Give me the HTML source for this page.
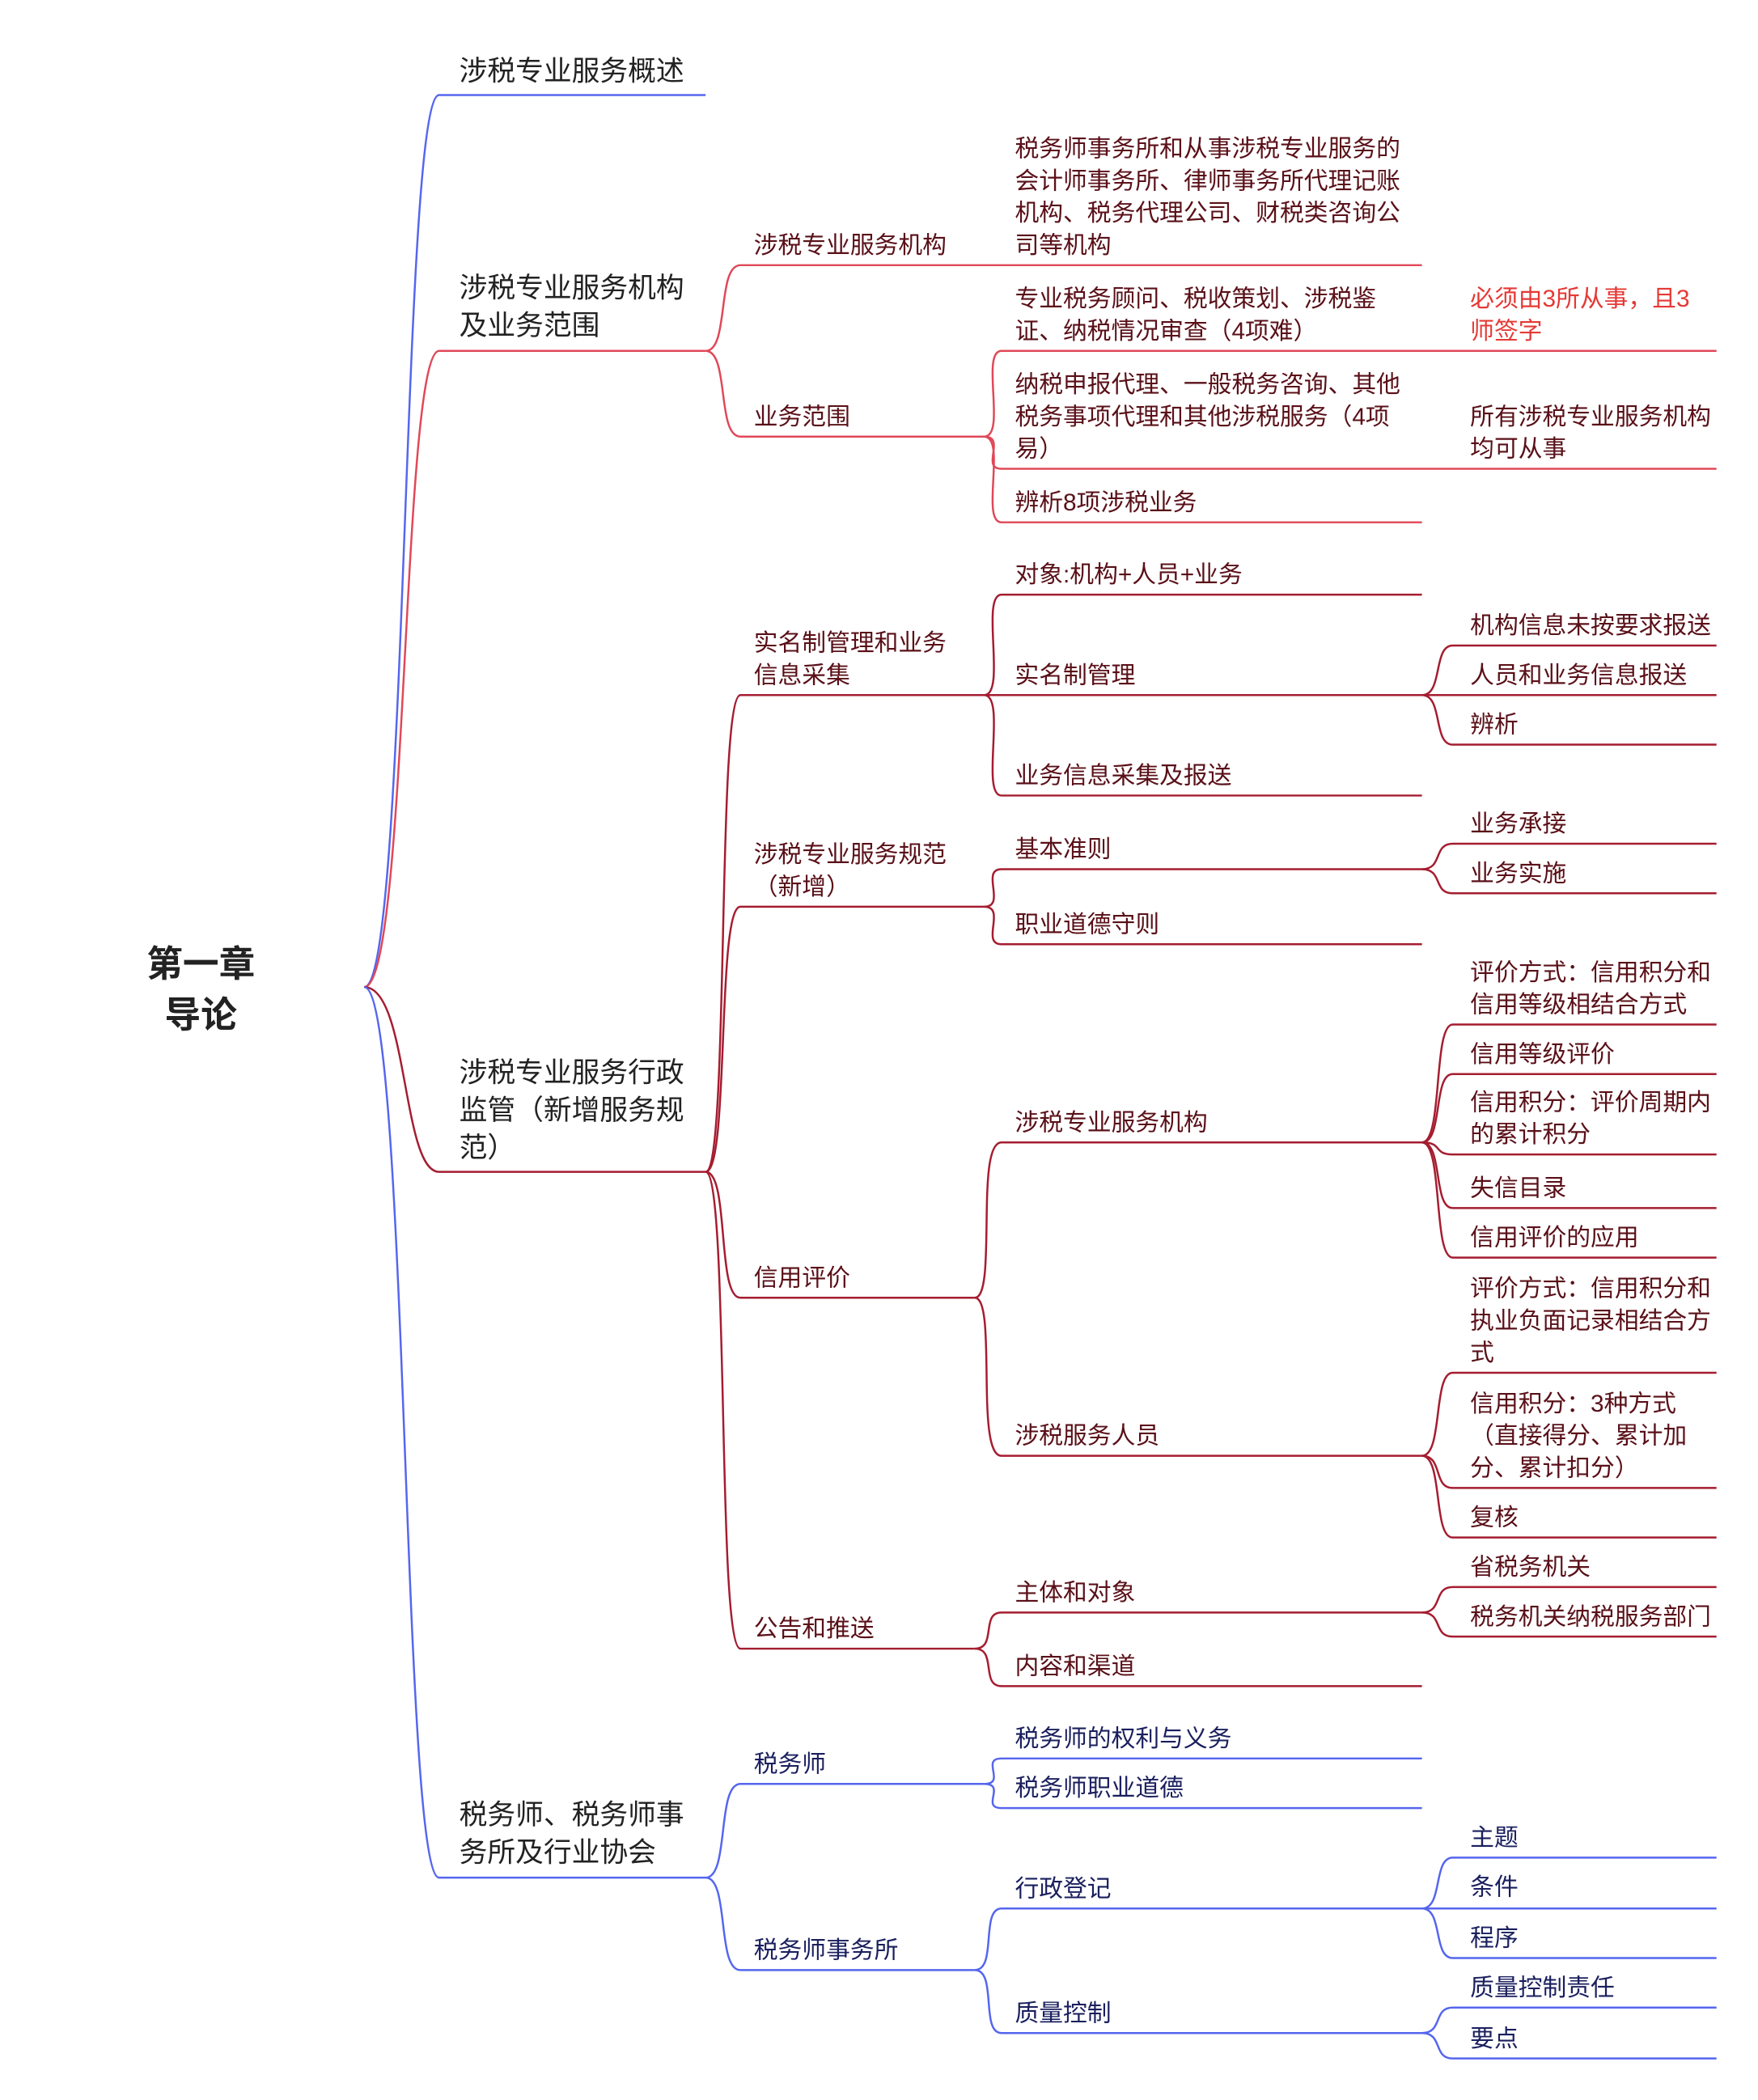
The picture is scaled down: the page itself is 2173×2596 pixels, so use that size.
<!DOCTYPE html>
<html><head><meta charset="utf-8"><style>
html,body{margin:0;padding:0;background:#fff;}
svg{display:block;}
text{font-family:"Liberation Sans","Noto Sans CJK SC",sans-serif;font-size:18px;}
.b path{stroke:#5566ee;}
.r path{stroke:#e04858;}
.d path{stroke:#a51d30;}
path{fill:none;stroke-width:1.5;}
.tb{fill:#1a1f5e;} .tr{fill:#5a1018;}
.l1{font-size:21px;fill:#222;}
</style></head><body>
<svg width="2173" height="2596" viewBox="0 0 1313 1568" preserveAspectRatio="none">
<!-- root -->
<text x="150" y="729" text-anchor="middle" style="font-size:27px;font-weight:bold;fill:#222">第一章</text>
<text x="150" y="767" text-anchor="middle" style="font-size:27px;font-weight:bold;fill:#222">导论</text>

<!-- Branch 1 blue -->
<g class="b"><path d="M272 737 C305 737 300 71 328 71 H527"/></g>
<text class="l1" x="343" y="60">涉税专业服务概述</text>

<!-- Branch 2 red -->
<g class="r">
<path d="M272 737 C305 737 300 262 328 262 H527"/>
<path d="M527 262 C545 262 535 198 553 198 H1062"/>
<path d="M527 262 C545 262 535 326 553 326 H735"/>
<path d="M735 326 C752 326 732 262 748 262 H1282"/>
<path d="M735 326 C752 326 732 350 748 350 H1282"/>
<path d="M735 326 C752 326 732 390 748 390 H1062"/>
</g>
<text class="l1" x="343" y="222">涉税专业服务机构</text>
<text class="l1" x="343" y="250">及业务范围</text>
<text class="tr" x="563" y="189">涉税专业服务机构</text>
<text class="tr" x="563" y="317">业务范围</text>
<text class="tr" x="758" y="117">税务师事务所和从事涉税专业服务的</text>
<text class="tr" x="758" y="141">会计师事务所、律师事务所代理记账</text>
<text class="tr" x="758" y="165">机构、税务代理公司、财税类咨询公</text>
<text class="tr" x="758" y="189">司等机构</text>
<text class="tr" x="758" y="229">专业税务顾问、税收策划、涉税鉴</text>
<text class="tr" x="758" y="253">证、纳税情况审查（4项难）</text>
<text x="1098" y="229" style="fill:#e53935">必须由3所从事，且3</text>
<text x="1098" y="253" style="fill:#e53935">师签字</text>
<text class="tr" x="758" y="293">纳税申报代理、一般税务咨询、其他</text>
<text class="tr" x="758" y="317">税务事项代理和其他涉税服务（4项</text>
<text class="tr" x="758" y="341">易）</text>
<text class="tr" x="1098" y="317">所有涉税专业服务机构</text>
<text class="tr" x="1098" y="341">均可从事</text>
<text class="tr" x="758" y="381">辨析8项涉税业务</text>

<!-- Branch 3 dark red -->
<g class="d">
<path d="M272 737 C305 737 300 875 328 875 H527"/>
<path d="M527 875 C545 875 535 519 553 519 H735"/>
<path d="M527 875 C545 875 535 677 553 677 H735"/>
<path d="M527 875 C545 875 535 969 553 969 H728"/>
<path d="M527 875 C545 875 535 1231 553 1231 H728"/>
<path d="M735 519 C752 519 732 444 748 444 H1062"/>
<path d="M735 519 C752 519 732 519 748 519 H1062"/>
<path d="M735 519 C752 519 732 594 748 594 H1062"/>
<path d="M1062 519 C1078 519 1070 482 1085 482 H1282"/>
<path d="M1062 519 H1282"/>
<path d="M1062 519 C1078 519 1070 556 1085 556 H1282"/>
<path d="M735 677 C752 677 732 649 748 649 H1062"/>
<path d="M735 677 C752 677 732 705 748 705 H1062"/>
<path d="M1062 649 C1078 649 1070 630 1085 630 H1282"/>
<path d="M1062 649 C1078 649 1070 667 1085 667 H1282"/>
<path d="M728 969 C745 969 728 853 748 853 H1062"/>
<path d="M728 969 C745 969 728 1087 748 1087 H1062"/>
<path d="M1062 853 C1078 853 1070 765 1085 765 H1282"/>
<path d="M1062 853 C1078 853 1070 802 1085 802 H1282"/>
<path d="M1062 853 C1078 853 1070 862 1085 862 H1282"/>
<path d="M1062 853 C1078 853 1070 902 1085 902 H1282"/>
<path d="M1062 853 C1078 853 1070 939 1085 939 H1282"/>
<path d="M1062 1087 C1078 1087 1070 1025 1085 1025 H1282"/>
<path d="M1062 1087 C1078 1087 1070 1111 1085 1111 H1282"/>
<path d="M1062 1087 C1078 1087 1070 1148 1085 1148 H1282"/>
<path d="M728 1231 C745 1231 732 1204 748 1204 H1062"/>
<path d="M728 1231 C745 1231 732 1259 748 1259 H1062"/>
<path d="M1062 1204 C1078 1204 1070 1185 1085 1185 H1282"/>
<path d="M1062 1204 C1078 1204 1070 1222 1085 1222 H1282"/>
</g>
<text class="l1" x="343" y="808">涉税专业服务行政</text>
<text class="l1" x="343" y="836">监管（新增服务规</text>
<text class="l1" x="343" y="864">范）</text>
<text class="tr" x="563" y="486">实名制管理和业务</text>
<text class="tr" x="563" y="510">信息采集</text>
<text class="tr" x="563" y="644">涉税专业服务规范</text>
<text class="tr" x="563" y="668">（新增）</text>
<text class="tr" x="563" y="960">信用评价</text>
<text class="tr" x="563" y="1222">公告和推送</text>
<text class="tr" x="758" y="435">对象:机构+人员+业务</text>
<text class="tr" x="758" y="510">实名制管理</text>
<text class="tr" x="758" y="585">业务信息采集及报送</text>
<text class="tr" x="1098" y="473">机构信息未按要求报送</text>
<text class="tr" x="1098" y="510">人员和业务信息报送</text>
<text class="tr" x="1098" y="547">辨析</text>
<text class="tr" x="758" y="640">基本准则</text>
<text class="tr" x="758" y="696">职业道德守则</text>
<text class="tr" x="1098" y="621">业务承接</text>
<text class="tr" x="1098" y="658">业务实施</text>
<text class="tr" x="758" y="844">涉税专业服务机构</text>
<text class="tr" x="758" y="1078">涉税服务人员</text>
<text class="tr" x="1098" y="732">评价方式：信用积分和</text>
<text class="tr" x="1098" y="756">信用等级相结合方式</text>
<text class="tr" x="1098" y="793">信用等级评价</text>
<text class="tr" x="1098" y="829">信用积分：评价周期内</text>
<text class="tr" x="1098" y="853">的累计积分</text>
<text class="tr" x="1098" y="893">失信目录</text>
<text class="tr" x="1098" y="930">信用评价的应用</text>
<text class="tr" x="1098" y="968">评价方式：信用积分和</text>
<text class="tr" x="1098" y="992">执业负面记录相结合方</text>
<text class="tr" x="1098" y="1016">式</text>
<text class="tr" x="1098" y="1054">信用积分：3种方式</text>
<text class="tr" x="1098" y="1078">（直接得分、累计加</text>
<text class="tr" x="1098" y="1102">分、累计扣分）</text>
<text class="tr" x="1098" y="1139">复核</text>
<text class="tr" x="758" y="1195">主体和对象</text>
<text class="tr" x="758" y="1250">内容和渠道</text>
<text class="tr" x="1098" y="1176">省税务机关</text>
<text class="tr" x="1098" y="1213">税务机关纳税服务部门</text>

<!-- Branch 4 blue -->
<g class="b">
<path d="M272 737 C305 737 300 1402 328 1402 H527"/>
<path d="M527 1402 C545 1402 535 1332 553 1332 H735"/>
<path d="M527 1402 C545 1402 535 1471 553 1471 H728"/>
<path d="M735 1332 C752 1332 732 1313 748 1313 H1062"/>
<path d="M735 1332 C752 1332 732 1350 748 1350 H1062"/>
<path d="M728 1471 C745 1471 732 1425 748 1425 H1062"/>
<path d="M728 1471 C745 1471 732 1518 748 1518 H1062"/>
<path d="M1062 1425 C1078 1425 1070 1387 1085 1387 H1282"/>
<path d="M1062 1425 H1282"/>
<path d="M1062 1425 C1078 1425 1070 1462 1085 1462 H1282"/>
<path d="M1062 1518 C1078 1518 1070 1499 1085 1499 H1282"/>
<path d="M1062 1518 C1078 1518 1070 1537 1085 1537 H1282"/>
</g>
<text class="l1" x="343" y="1362">税务师、税务师事</text>
<text class="l1" x="343" y="1390">务所及行业协会</text>
<text class="tb" x="563" y="1323">税务师</text>
<text class="tb" x="563" y="1462">税务师事务所</text>
<text class="tb" x="758" y="1304">税务师的权利与义务</text>
<text class="tb" x="758" y="1341">税务师职业道德</text>
<text class="tb" x="758" y="1416">行政登记</text>
<text class="tb" x="758" y="1509">质量控制</text>
<text class="tb" x="1098" y="1378">主题</text>
<text class="tb" x="1098" y="1415">条件</text>
<text class="tb" x="1098" y="1453">程序</text>
<text class="tb" x="1098" y="1490">质量控制责任</text>
<text class="tb" x="1098" y="1528">要点</text>
</svg>
</body></html>
